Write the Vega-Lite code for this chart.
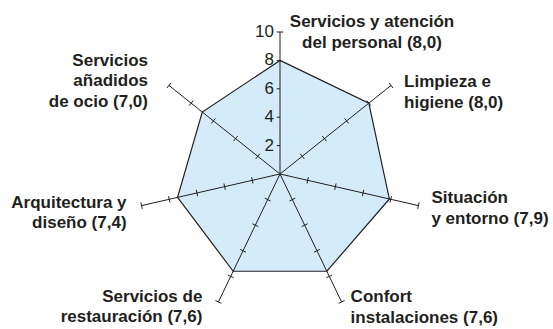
{
  "$schema": "https://vega.github.io/schema/vega-lite/v6.json",
  "width": 553,
  "height": 329,
  "autosize": "none",
  "padding": 0,
  "background": "white",
  "config": {"view": {"stroke": null}},
  "datasets": {
    "axes": [
      {"k": 0, "label": ["Servicios y atención", "del personal (8,0)"], "value": 8.0, "ticks": [2, 4, 6, 8, 10]},
      {"k": 1, "label": ["Limpieza e", "higiene (8,0)"], "value": 8.0, "ticks": [2, 4, 6, 8, 10]},
      {"k": 2, "label": ["Situación", "y entorno (7,9)"], "value": 7.9, "ticks": [2, 4, 6, 8, 10]},
      {"k": 3, "label": ["Confort", "instalaciones (7,6)"], "value": 7.6, "ticks": [2, 4, 6, 8, 10]},
      {"k": 4, "label": ["Servicios de", "restauración (7,6)"], "value": 7.6, "ticks": [2, 4, 6, 8, 10]},
      {"k": 5, "label": ["Arquitectura y", "diseño (7,4)"], "value": 7.4, "ticks": [2, 4, 6, 8, 10]},
      {"k": 6, "label": ["Servicios", "añadidos", "de ocio (7,0)"], "value": 7.0, "ticks": [2, 4, 6, 8, 10]}
    ]
  },
  "data": {"name": "axes"},
  "transform": [
    {"calculate": "datum.k * 2 * PI / 7", "as": "a"},
    {"calculate": "sin(datum.a)", "as": "s"},
    {"calculate": "cos(datum.a)", "as": "c"},
    {"calculate": "10 * datum.s", "as": "ex"},
    {"calculate": "10 * datum.c", "as": "ey"},
    {"calculate": "0", "as": "o"}
  ],
  "layer": [
    {
      "mark": {"type": "line", "interpolate": "linear-closed", "fill": "#d4ecf9", "stroke": "#231f20", "strokeWidth": 1.2},
      "transform": [
        {"calculate": "datum.value * datum.s", "as": "px"},
        {"calculate": "datum.value * datum.c", "as": "py"}
      ],
      "encoding": {
        "x": {"field": "px", "type": "quantitative", "scale": {"domain": [-19.718, 19.225], "nice": false, "zero": false}, "axis": null},
        "y": {"field": "py", "type": "quantitative", "scale": {"domain": [-10.915, 12.254], "nice": false, "zero": false}, "axis": null},
        "order": {"field": "k", "type": "quantitative"}
      }
    },
    {
      "mark": {"type": "rule", "stroke": "#231f20", "strokeWidth": 1},
      "encoding": {
        "x": {"field": "o", "type": "quantitative"},
        "y": {"field": "o", "type": "quantitative"},
        "x2": {"field": "ex"},
        "y2": {"field": "ey"}
      }
    },
    {
      "mark": {"type": "rule", "stroke": "#231f20", "strokeWidth": 1},
      "transform": [
        {"flatten": ["ticks"], "as": ["t"]},
        {"calculate": "0.23", "as": "h"},
        {"calculate": "datum.t * datum.s - datum.h * datum.c", "as": "tx1"},
        {"calculate": "datum.t * datum.c + datum.h * datum.s", "as": "ty1"},
        {"calculate": "(datum.k == 0 && datum.t < 10) ? datum.t * datum.s : datum.t * datum.s + datum.h * datum.c", "as": "tx2"},
        {"calculate": "(datum.k == 0 && datum.t < 10) ? datum.t * datum.c : datum.t * datum.c - datum.h * datum.s", "as": "ty2"}
      ],
      "encoding": {
        "x": {"field": "tx1", "type": "quantitative"},
        "y": {"field": "ty1", "type": "quantitative"},
        "x2": {"field": "tx2"},
        "y2": {"field": "ty2"}
      }
    },
    {
      "mark": {"type": "text", "align": "right", "baseline": "middle", "dx": -6, "fontSize": 17, "font": "Liberation Sans", "color": "#231f20"},
      "transform": [
        {"filter": "datum.k == 0"},
        {"flatten": ["ticks"], "as": ["t"]}
      ],
      "encoding": {
        "x": {"field": "o", "type": "quantitative"},
        "y": {"field": "t", "type": "quantitative"},
        "text": {"field": "t", "type": "quantitative", "format": "d"}
      }
    },
    {
      "mark": {"type": "text", "align": "center", "baseline": "alphabetic", "dx": 92, "dy": -5, "fontSize": 17, "fontWeight": "bold", "font": "Liberation Sans", "lineHeight": 21, "color": "#231f20"},
      "transform": [{"filter": "datum.k == 0"}],
      "encoding": {"x": {"field": "ex", "type": "quantitative"}, "y": {"field": "ey", "type": "quantitative"}, "text": {"field": "label", "type": "nominal"}}
    },
    {
      "mark": {"type": "text", "align": "left", "baseline": "alphabetic", "dx": 13, "dy": 1.5, "fontSize": 17, "fontWeight": "bold", "font": "Liberation Sans", "lineHeight": 21, "color": "#231f20"},
      "transform": [{"filter": "datum.k == 1"}],
      "encoding": {"x": {"field": "ex", "type": "quantitative"}, "y": {"field": "ey", "type": "quantitative"}, "text": {"field": "label", "type": "nominal"}}
    },
    {
      "mark": {"type": "text", "align": "left", "baseline": "alphabetic", "dx": 13, "dy": -2.5, "fontSize": 17, "fontWeight": "bold", "font": "Liberation Sans", "lineHeight": 21, "color": "#231f20"},
      "transform": [{"filter": "datum.k == 2"}],
      "encoding": {"x": {"field": "ex", "type": "quantitative"}, "y": {"field": "ey", "type": "quantitative"}, "text": {"field": "label", "type": "nominal"}}
    },
    {
      "mark": {"type": "text", "align": "left", "baseline": "alphabetic", "dx": 9, "dy": 0, "fontSize": 17, "fontWeight": "bold", "font": "Liberation Sans", "lineHeight": 21, "color": "#231f20"},
      "transform": [{"filter": "datum.k == 3"}],
      "encoding": {"x": {"field": "ex", "type": "quantitative"}, "y": {"field": "ey", "type": "quantitative"}, "text": {"field": "label", "type": "nominal"}}
    },
    {
      "mark": {"type": "text", "align": "right", "baseline": "alphabetic", "dx": -16, "dy": 0, "fontSize": 17, "fontWeight": "bold", "font": "Liberation Sans", "lineHeight": 20, "color": "#231f20"},
      "transform": [{"filter": "datum.k == 4"}],
      "encoding": {"x": {"field": "ex", "type": "quantitative"}, "y": {"field": "ey", "type": "quantitative"}, "text": {"field": "label", "type": "nominal"}}
    },
    {
      "mark": {"type": "text", "align": "right", "baseline": "alphabetic", "dx": -15, "dy": 2, "fontSize": 17, "fontWeight": "bold", "font": "Liberation Sans", "lineHeight": 20, "color": "#231f20"},
      "transform": [{"filter": "datum.k == 5"}],
      "encoding": {"x": {"field": "ex", "type": "quantitative"}, "y": {"field": "ey", "type": "quantitative"}, "text": {"field": "label", "type": "nominal"}}
    },
    {
      "mark": {"type": "text", "align": "right", "baseline": "alphabetic", "dx": -21, "dy": -19.5, "fontSize": 17, "fontWeight": "bold", "font": "Liberation Sans", "lineHeight": 20.5, "color": "#231f20"},
      "transform": [{"filter": "datum.k == 6"}],
      "encoding": {"x": {"field": "ex", "type": "quantitative"}, "y": {"field": "ey", "type": "quantitative"}, "text": {"field": "label", "type": "nominal"}}
    }
  ]
}
